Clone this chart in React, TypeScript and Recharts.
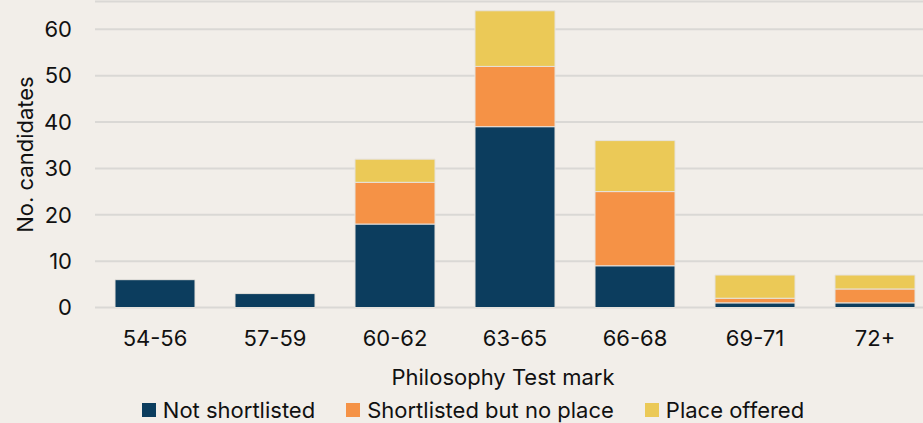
import { BarChart, Bar, XAxis, YAxis, CartesianGrid, Legend } from 'recharts';

// Data
const categories = ['54-56', '57-59', '60-62', '63-65', '66-68', '69-71', '72+'];
const notShortlisted = [6, 3, 18, 39, 9, 1, 1];
const shortlistedNoPlace = [0, 0, 9, 13, 16, 1, 3];
const placeOffered = [0, 0, 5, 12, 11, 5, 3];
const yTicks = [0, 10, 20, 30, 40, 50, 60];

const series = [
    { key: 'notShortlisted', name: 'Not shortlisted', color: '#0c3d5e' },
    { key: 'shortlistedNoPlace', name: 'Shortlisted but no place', color: '#f59246' },
    { key: 'placeOffered', name: 'Place offered', color: '#ebc957' },
];

const data = categories.map((mark, i) => ({
    mark,
    notShortlisted: notShortlisted[i],
    shortlistedNoPlace: shortlistedNoPlace[i],
    placeOffered: placeOffered[i],
}));

const FONT = 'Inter, "DejaVu Sans", sans-serif';
const FS = 22;
const BG = '#f2eee9';

const LegendRow = () => (
    <div style={{ display: 'flex', justifyContent: 'center', alignItems: 'center', gap: 31, height: 22, lineHeight: '22px', fontFamily: FONT, fontSize: FS, color: '#111' }}>
        {series.map((s) => (
            <div key={s.key} style={{ display: 'flex', alignItems: 'center', gap: 7 }}>
                <span style={{ display: 'inline-block', width: 14, height: 14, background: s.color }} />
                <span>{s.name}</span>
            </div>
        ))}
    </div>
);

const App = () => {
    return (
        <div style={{ position: 'fixed', left: 0, top: 0, width: 923, height: 423, overflow: 'hidden', background: BG }}>
            <BarChart
                width={940}
                height={423}
                data={data}
                margin={{ top: 1.5, right: 5, bottom: 7.5, left: 0 }}
                style={{ fontFamily: FONT }}
            >
                <CartesianGrid vertical={false} stroke="#dad8d5" strokeWidth={2} />
                <XAxis
                    dataKey="mark"
                    axisLine={false}
                    tickLine={false}
                    tickSize={0}
                    tickMargin={23}
                    height={86}
                    tick={{ fill: '#111', fontSize: FS }}
                    label={{ value: 'Philosophy Test mark', position: 'insideBottom', offset: 8.5, dx: -12, fill: '#111', fontSize: FS }}
                />
                <YAxis
                    domain={[0, 66]}
                    ticks={yTicks}
                    width={95}
                    axisLine={false}
                    tickLine={false}
                    tickSize={0}
                    tickMargin={23}
                    tick={{ fill: '#111', fontSize: FS }}
                    label={{ value: 'No. candidates', angle: -90, position: 'insideLeft', offset: 25, fill: '#111', fontSize: FS, style: { textAnchor: 'middle' } }}
                />
                <Legend
                    verticalAlign="bottom"
                    content={() => <LegendRow />}
                    wrapperStyle={{ left: 0, top: 399, width: 946 }}
                />
                {series.map((s) => (
                    <Bar
                        key={s.key}
                        dataKey={s.key}
                        name={s.name}
                        stackId="a"
                        fill={s.color}
                        barSize={80}
                        stroke="#e6e2dc"
                        strokeWidth={1}
                        isAnimationActive={false}
                    />
                ))}
            </BarChart>
        </div>
    );
};

export default App;
